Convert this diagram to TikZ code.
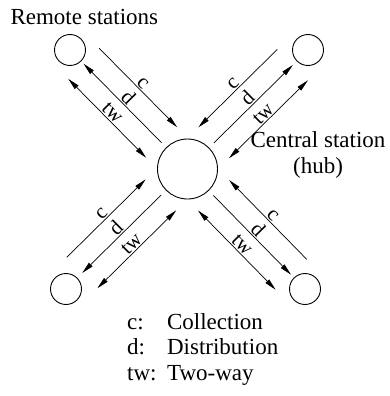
\documentclass[tikz,border=0pt]{standalone}
\usepackage{fontspec}
\setmainfont{Liberation Serif}
\usetikzlibrary{arrows.meta,calc}
\newcommand\diagfont{\fontsize{23}{25.5}\selectfont}
\newcommand\linkfont{\fontsize{21}{21}\selectfont}

\begin{document}
\begin{tikzpicture}[x=1pt,y=-1pt,font=\diagfont,
    station/.style={draw,circle,line width=0.9pt,inner sep=0pt},
    link/.style={line width=0.7pt,>={Triangle[length=12pt,width=5pt]}},
    lbl/.style={midway,above,sloped,inner sep=1pt,font=\linkfont}]
  \useasboundingbox (0,0) rectangle (390,396);
  \node[station,minimum size=60pt] (hub) at (187.5,169) {};
  \node[station,minimum size=31pt] (tl) at (70,50) {};
  \node[station,minimum size=31pt] (tr) at (308,50) {};
  \node[station,minimum size=31pt] (bl) at (66,289) {};
  \node[station,minimum size=31pt] (br) at (305,289) {};
  % c runs to the hub, d away from it, tw both ways
  \foreach \r/\a/\s/\e/\ca/\da in {tl/-90/148pt/37pt/->/<-, bl/-90/148pt/37pt/->/<-,
      tr/90/37pt/148pt/<-/->, br/90/37pt/148pt/<-/->} {
    \draw[link,\ca] ($(hub)!\s!(\r)!22pt!\a:(\r)$) -- ($(hub)!\e!(\r)!22pt!\a:(\r)$) node[lbl] {c};
    \draw[link,\da] ($(hub)!\s!(\r)$) -- ($(hub)!\e!(\r)$) node[lbl] {d};
    \draw[link,<->] ($(hub)!\s!(\r)!-21.5pt!\a:(\r)$) -- ($(hub)!\e!(\r)!-21.5pt!\a:(\r)$) node[lbl] {tw};
  }
  \node[anchor=base west] (remote) at (7,25) {Remote stations};
  \node[anchor=base,align=center] (central) at (318,173) {Central station\\(hub)};
  \node[anchor=base west,inner sep=0pt] (legend) at (127,329)
    {\begin{tabular}[t]{@{}l@{\hspace{10.5pt}}l@{}}
      c: & Collection\\ d: & Distribution\\ tw: & Two-way
    \end{tabular}};
\end{tikzpicture}
\end{document}
